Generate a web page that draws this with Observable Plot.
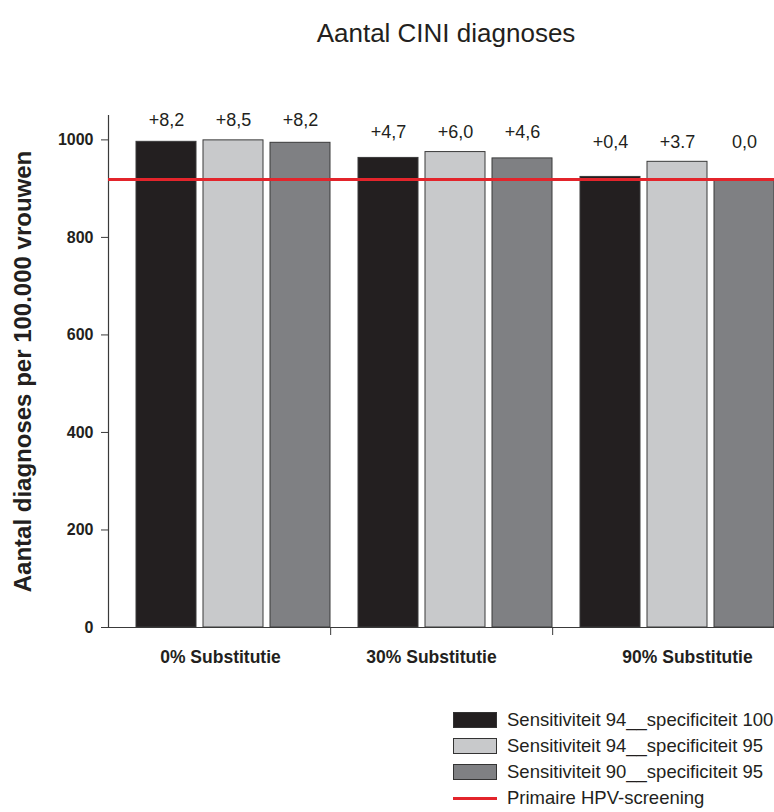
<!DOCTYPE html>
<html>
<head>
<meta charset="utf-8">
<script src="https://cdn.jsdelivr.net/npm/d3@7"></script>
<script src="https://cdn.jsdelivr.net/npm/@observablehq/plot@0.6"></script>
<style>
  html, body { margin: 0; padding: 0; background: #fff; }
  body { font-family: "Liberation Sans", Arial, sans-serif; color: #231f20; }
  #wrap { position: relative; width: 774px; height: 812px; overflow: hidden; }
  #title { position: absolute; left: 446px; top: 18px; transform: translateX(-50%); font-size: 26px; line-height: 30px; white-space: nowrap; }
  #chart { position: absolute; left: 0; top: 0; }
  #legend { position: absolute; left: 453px; top: 707px; }
  .row { display: flex; align-items: center; height: 26px; font-size: 18.5px; white-space: nowrap; }
  .sw { width: 44px; height: 16px; box-sizing: border-box; border: 1px solid #333; margin-right: 10px; }
  .ln { width: 44px; height: 3px; background: #e3242b; margin-right: 10px; }
</style>
</head>
<body>
<div id="wrap">
  <div id="chart"></div>
  <div id="title">Aantal CINI diagnoses</div>
  <div id="legend"></div>
</div>
<script>
// ---- data ----
const groups = ["0% Substitutie", "30% Substitutie", "90% Substitutie"];
const series = [
  "Sensitiviteit 94__specificiteit 100",
  "Sensitiviteit 94__specificiteit 95",
  "Sensitiviteit 90__specificiteit 95"
];
const values0 = [996, 999, 994];
const values30 = [963, 975, 962];
const values90 = [924, 955, 919];
const changes0 = ["+8,2", "+8,5", "+8,2"];
const changes30 = ["+4,7", "+6,0", "+4,6"];
const changes90 = ["+0,4", "+3.7", "0,0"];
const baselineValue = 919;
const baselineName = "Primaire HPV-screening";
const yTicks = [0, 200, 400, 600, 800, 1000];
const yLabel = "Aantal diagnoses per 100.000 vrouwen";
const colors = ["#231f20", "#c8c9cb", "#7f8083"];

const valuesByGroup = [values0, values30, values90];
const changesByGroup = [changes0, changes30, changes90];
const data = groups.flatMap((g, i) => series.map((s, j) => ({
  group: g, series: s, value: valuesByGroup[i][j], label: changesByGroup[i][j],
  groupMax: d3.max(valuesByGroup[i])
})));

const W = 774, H = 700, mL = 107, mR = 0, mT = 115, mB = 73;
const facetW = (W - mL - mR) / groups.length;
const font = "'Liberation Sans', Arial, sans-serif";
const labelDx = [1, -10, 24];

const plot = Plot.plot({
  width: W, height: H,
  marginTop: mT, marginLeft: mL, marginRight: mR, marginBottom: mB,
  style: { fontFamily: font, color: "#231f20", background: "transparent" },
  fx: { domain: groups, padding: 0, label: null },
  x: { domain: series, paddingInner: 0.1, paddingOuter: 0.2, align: 1, axis: null },
  y: { domain: [0, 1050] },
  color: { domain: series, range: colors },
  marks: [
    Plot.barY(data, { fx: "group", x: "series", y: "value", fill: "series", stroke: "#3a3a3a", strokeWidth: 1 }),
    Plot.ruleY([0], { stroke: "#3a3a3a", strokeWidth: 1.2 }),
    Plot.frame({ anchor: "left", facetAnchor: "left", stroke: "#3a3a3a", strokeWidth: 1.2 }),
    Plot.ruleY([baselineValue], { stroke: "#e3242b", strokeWidth: 3 }),
    Plot.text(data, { fx: "group", x: "series", y: "groupMax", text: "label", dy: -20, fontSize: 18, fill: "#231f20" }),
    Plot.axisY({ ticks: yTicks, tickFormat: d3.format("d"), tickSize: 7, tickPadding: 8, fontSize: 16, fontWeight: "bold", label: null, stroke: "#3a3a3a" }),
    Plot.text([yLabel], { fx: () => groups[0], frameAnchor: "left", textAnchor: "middle", rotate: -90, dx: -85, text: d => d, fontSize: 24, fontWeight: "bold", fill: "#231f20" }),
    Plot.axisFx({ anchor: "bottom", tickSize: 8, tickFormat: () => "", dx: facetW / 2, label: null, stroke: "#3a3a3a" }),
    ...groups.map((g, i) => Plot.text([g], { fx: d => d, text: d => d, frameAnchor: "bottom", dy: 35, dx: labelDx[i], fontSize: 17.5, fontWeight: "bold", fill: "#231f20", letterSpacing: -0.5 }))
  ]
});
document.getElementById("chart").appendChild(plot);

// ---- legend ----
const legend = document.getElementById("legend");
series.forEach((s, i) => {
  const row = document.createElement("div");
  row.className = "row";
  const sw = document.createElement("div");
  sw.className = "sw";
  sw.style.background = colors[i];
  const t = document.createElement("span");
  t.textContent = s;
  row.appendChild(sw); row.appendChild(t);
  legend.appendChild(row);
});
{
  const row = document.createElement("div");
  row.className = "row";
  const ln = document.createElement("div");
  ln.className = "ln";
  const t = document.createElement("span");
  t.textContent = baselineName;
  row.appendChild(ln); row.appendChild(t);
  legend.appendChild(row);
}
</script>
</body>
</html>
